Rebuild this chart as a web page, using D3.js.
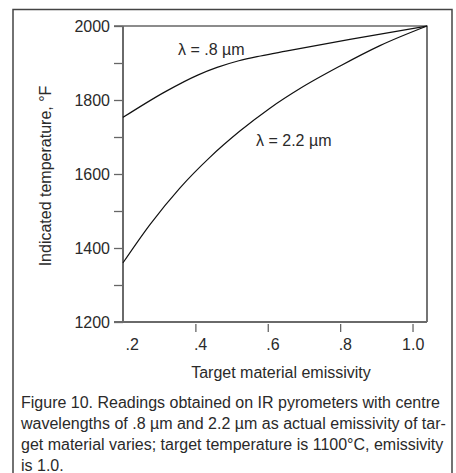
<!DOCTYPE html>
<html lang="en">
<head>
  <meta charset="UTF-8">
  <title>Indicated temperature vs emissivity</title>
  <style>
    body {
      margin: 0;
      background: #fff;
    }
    svg {
      display: block;
      font-family: "Liberation Sans", Arial, sans-serif;
    }
    .tick-label, .axis-title, .caption, .curve-label {
      fill: #2a2a2a;
    }
  </style>
</head>
<body>
  <svg id="chart" width="456" height="473"></svg>

  <script src="https://d3js.org/d3.v7.min.js"></script>
  <script>
    // values
    const emissivity08 = [0.2, 0.316, 0.408, 0.46, 0.52, 0.58, 0.65, 0.827, 1.04];
    const temp08 = [1753, 1822, 1868, 1888, 1906, 1919, 1932, 1964, 2000];

    const emissivity22 = [0.2, 0.275, 0.357, 0.44, 0.523, 0.606, 0.689, 0.8, 0.91, 1.04];
    const temp22 = [1360, 1464, 1562, 1645, 1716, 1778, 1831, 1892, 1947, 2000];

    const xTicks = [0.2, 0.4, 0.6, 0.8, 1.0];
    const xTickLabels = [".2", ".4", ".6", ".8", "1.0"];
    const yTicks = [1200, 1300, 1400, 1500, 1600, 1700, 1800, 1900, 2000];
    const yTickLabels = ["1200", "", "1400", "", "1600", "", "1800", "", "2000"];

    const caption = [
      "Figure 10. Readings obtained on IR pyrometers with centre",
      "wavelengths of .8 µm and 2.2 µm as actual emissivity of tar-",
      "get material varies; target temperature is 1100°C, emissivity",
      "is 1.0."
    ];

    const fontSize = 16;
    const svg = d3.select("#chart");

    // outer frame (runs off the bottom of the page)
    svg.append("rect")
      .attr("x", 13)
      .attr("y", 9.5)
      .attr("width", 439)
      .attr("height", 480)
      .attr("fill", "none")
      .attr("stroke", "#444")
      .attr("stroke-width", 1.5);

    const plotLeft = 123, plotRight = 427, plotTop = 26, plotBottom = 322;

    const x = d3.scaleLinear().domain([0.2, 1.04]).range([plotLeft, plotRight]);
    const y = d3.scaleLinear().domain([1200, 2000]).range([plotBottom, plotTop]);

    // top and right frame of the plot
    svg.append("path")
      .attr("fill", "none")
      .attr("stroke", "#1a1a1a")
      .attr("stroke-width", 1.2)
      .attr("d", `M${plotLeft - 9},${plotTop} H${plotRight} V${plotBottom}`);

    // y axis
    const yAxis = svg.append("g")
      .attr("transform", `translate(${plotLeft},0)`)
      .call(d3.axisLeft(y).tickValues(yTicks).tickSize(9).tickFormat((d, i) => yTickLabels[i]));
    yAxis.attr("font-family", null);
    yAxis.select(".domain").remove();
    yAxis.selectAll(".tick line").attr("stroke", "#666").attr("stroke-width", 1.3);
    yAxis.selectAll(".tick text")
      .attr("class", "tick-label")
      .attr("x", -13)
      .attr("font-size", fontSize);
    svg.append("line")
      .attr("x1", plotLeft).attr("x2", plotLeft)
      .attr("y1", plotTop).attr("y2", plotBottom)
      .attr("stroke", "#6a6a6a")
      .attr("stroke-width", 2);

    // x axis
    const xAxis = svg.append("g")
      .attr("transform", `translate(0,${plotBottom})`)
      .call(d3.axisBottom(x).tickValues(xTicks).tickSize(10).tickFormat((d, i) => xTickLabels[i]));
    xAxis.attr("font-family", null);
    xAxis.select(".domain").remove();
    xAxis.selectAll(".tick line")
      .attr("stroke", "#666")
      .attr("stroke-width", 1.3)
      .attr("y1", 2)
      .attr("opacity", (d, i) => i === 0 ? 0 : 1);
    xAxis.selectAll(".tick text")
      .attr("class", "tick-label")
      .attr("font-size", fontSize)
      .attr("y", 17)
      .attr("dy", "0.71em")
      .attr("text-anchor", "start")
      .each(function (d, i) {
        // line the decimal point up with the tick
        const label = xTickLabels[i];
        const pre = label.split(".")[0];
        const t = d3.select(this);
        t.text(pre);
        const w = pre ? this.getComputedTextLength() : 0;
        t.text(label);
        t.attr("x", -w - 2 + (i === 0 ? 4 : 0));
      });
    svg.append("line")
      .attr("x1", plotLeft - 9).attr("x2", plotRight)
      .attr("y1", plotBottom).attr("y2", plotBottom)
      .attr("stroke", "#6a6a6a")
      .attr("stroke-width", 2);

    // curves
    const line = d3.line()
      .x(d => x(d[0]))
      .y(d => y(d[1]))
      .curve(d3.curveMonotoneX);

    const series = [
      d3.zip(emissivity08, temp08),
      d3.zip(emissivity22, temp22)
    ];

    svg.selectAll(".curve")
      .data(series)
      .join("path")
      .attr("class", "curve")
      .attr("fill", "none")
      .attr("stroke", "#111")
      .attr("stroke-width", 1.2)
      .attr("d", line);

    svg.append("text")
      .attr("class", "curve-label")
      .attr("x", 178)
      .attr("y", 55)
      .attr("font-size", fontSize)
      .text("λ = .8 µm");

    svg.append("text")
      .attr("class", "curve-label")
      .attr("x", 256)
      .attr("y", 146)
      .attr("font-size", fontSize)
      .text("λ = 2.2 µm");

    // axis titles
    svg.append("text")
      .attr("class", "axis-title")
      .attr("transform", "translate(51,176) rotate(-90)")
      .attr("text-anchor", "middle")
      .attr("font-size", fontSize)
      .text("Indicated temperature, °F");

    svg.append("text")
      .attr("class", "axis-title")
      .attr("x", 281)
      .attr("y", 378)
      .attr("text-anchor", "middle")
      .attr("font-size", fontSize)
      .text("Target material emissivity");

    // caption
    svg.append("g")
      .selectAll("text")
      .data(caption)
      .join("text")
      .attr("class", "caption")
      .attr("x", 21)
      .attr("y", (d, i) => 407.5 + i * 21.2)
      .attr("font-size", fontSize)
      .text(d => d);
  </script>
</body>
</html>
